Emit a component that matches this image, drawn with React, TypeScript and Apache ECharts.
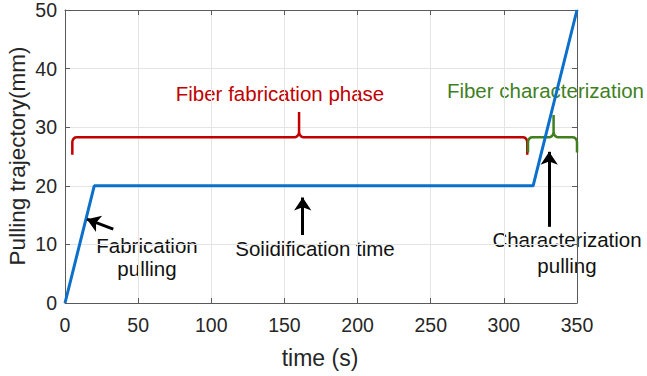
import React, { useEffect, useRef } from "react";
import * as echarts from "echarts";

// Data
const timeS = [0, 20, 320, 350];
const pullingMm = [0, 20, 20, 50];
const xTickMax = 350;
const yTickMax = 50;

// Braces: [from, to, tipX, baseY, levelY, peakY]
const fabBrace = [5, 316, 160, 25.3, 28.3, 32.6];
const charBrace = [316.5, 350, 334, 25.7, 28.3, 32.1];

// Arrows: [x1, y1, x2, y2] (tail -> head)
const arrowFab = [33, 12.6, 15, 14.3];
const arrowSol = [162.5, 11.6, 162.5, 18];
const arrowChar = [331, 13, 331, 25.8];

const FONT = "'Liberation Sans', Arial, sans-serif";

function bracePoints(b: number[]) {
  const [from, to, tip, base, level, peak] = b;
  const rx = 3;
  const ry = 0.9;
  const pts: number[][] = [];
  const steps = 5;
  pts.push([from, base]);
  pts.push([from, level - ry]);
  for (let i = 1; i <= steps; i++) {
    const a = (Math.PI / 2) * (i / steps);
    pts.push([from + rx * (1 - Math.cos(a)), level - ry + ry * Math.sin(a)]);
  }
  pts.push([tip - rx, level]);
  for (let i = 1; i <= steps; i++) {
    const a = (Math.PI / 2) * (i / steps);
    pts.push([tip - rx + rx * Math.sin(a), level + ry * (1 - Math.cos(a))]);
  }
  pts.push([tip, peak]);
  pts.push([tip, level + ry]);
  for (let i = 1; i <= steps; i++) {
    const a = (Math.PI / 2) * (i / steps);
    pts.push([tip + rx * (1 - Math.cos(a)), level + ry - ry * Math.sin(a)]);
  }
  pts.push([to - rx, level]);
  for (let i = 1; i <= steps; i++) {
    const a = (Math.PI / 2) * (i / steps);
    pts.push([to - rx + rx * Math.sin(a), level - ry * (1 - Math.cos(a))]);
  }
  pts.push([to, base]);
  return pts;
}

function arrowLine(a: number[]) {
  return [{ coord: [a[0], a[1]] }, { coord: [a[2], a[3]] }];
}

export default function App() {
  const ref = useRef<HTMLDivElement>(null);
  useEffect(() => {
    if (!ref.current) return;
    const chart = echarts.init(ref.current, undefined, { renderer: "svg" });
    const axisColor = "#5a5a5a";
    const labelStyle = { color: "#262626", fontSize: 19.5, fontFamily: FONT };
    const gridLine = { show: true, lineStyle: { color: "#e4e4e4", width: 1 } };
    chart.setOption({
      animation: false,
      backgroundColor: "#ffffff",
      grid: { left: 65, right: 70, top: 10, bottom: 73, containLabel: false },
      xAxis: [
        {
          type: "value",
          min: 0,
          max: xTickMax,
          interval: 50,
          axisLine: { show: true, lineStyle: { color: axisColor, width: 1 } },
          axisTick: { show: true, inside: true, length: 5, lineStyle: { color: axisColor } },
          axisLabel: { ...labelStyle, margin: 12 },
          splitLine: gridLine,
        },
        {
          type: "value",
          position: "top",
          min: 0,
          max: xTickMax,
          interval: 50,
          axisLine: { show: true, onZero: false, lineStyle: { color: axisColor, width: 1 } },
          axisTick: { show: true, inside: true, length: 5, lineStyle: { color: axisColor } },
          axisLabel: { show: false },
          splitLine: { show: false },
        },
      ],
      yAxis: [
        {
          type: "value",
          min: 0,
          max: yTickMax,
          interval: 10,
          axisLine: { show: true, lineStyle: { color: axisColor, width: 1 } },
          axisTick: { show: true, inside: true, length: 5, lineStyle: { color: axisColor } },
          axisLabel: { ...labelStyle, margin: 8 },
          splitLine: gridLine,
        },
        {
          type: "value",
          position: "right",
          min: 0,
          max: yTickMax,
          interval: 10,
          axisLine: { show: true, onZero: false, lineStyle: { color: axisColor, width: 1 } },
          axisTick: { show: true, inside: true, length: 5, lineStyle: { color: axisColor } },
          axisLabel: { show: false },
          splitLine: { show: false },
        },
      ],
      series: [
        {
          type: "line",
          data: bracePoints(fabBrace),
          showSymbol: false,
          silent: true,
          lineStyle: { color: "#c00000", width: 2.5 },
          z: 3,
        },
        {
          type: "line",
          data: bracePoints(charBrace),
          showSymbol: false,
          silent: true,
          lineStyle: { color: "#3f7f1f", width: 2.5 },
          z: 3,
        },
        {
          type: "line",
          data: timeS.map((t, i) => [t, pullingMm[i]]),
          showSymbol: false,
          silent: true,
          lineStyle: { color: "#0b6fcc", width: 3 },
          z: 4,
          markLine: {
            silent: true,
            symbol: ["none", "arrow"],
            symbolSize: 13,
            label: { show: false },
            itemStyle: { color: "#000000" },
            lineStyle: { color: "#000000", width: 3, type: "solid" },
            data: [arrowLine(arrowFab), arrowLine(arrowSol), arrowLine(arrowChar)],
          },
        },
      ],
      graphic: [
        {
          type: "text",
          x: 280,
          y: 93,
          style: { text: "Fiber fabrication phase", fill: "#c00000", fontSize: 20.5, fontFamily: FONT, align: "center", verticalAlign: "middle" },
        },
        {
          type: "text",
          x: 644,
          y: 90,
          style: { text: "Fiber characterization", fill: "#3f7f1f", fontSize: 20.5, fontFamily: FONT, align: "right", verticalAlign: "middle" },
        },
        {
          type: "text",
          x: 147,
          y: 256.5,
          style: { text: "Fabrication\npulling", fill: "#111", fontSize: 20.5, lineHeight: 23, fontFamily: FONT, align: "center", verticalAlign: "middle" },
        },
        {
          type: "text",
          x: 315,
          y: 248,
          style: { text: "Solidification time", fill: "#111", fontSize: 20.5, fontFamily: FONT, align: "center", verticalAlign: "middle" },
        },
        {
          type: "text",
          x: 567,
          y: 252,
          style: { text: "Characterization\npulling", fill: "#111", fontSize: 20.5, lineHeight: 26, fontFamily: FONT, align: "center", verticalAlign: "middle" },
        },
        {
          type: "text",
          x: 320,
          y: 358,
          style: { text: "time (s)", fill: "#262626", fontSize: 23, fontFamily: FONT, align: "center", verticalAlign: "middle" },
        },
        {
          type: "text",
          x: 17,
          y: 156,
          rotation: Math.PI / 2,
          style: { text: "Pulling trajectory(mm)", fill: "#262626", fontSize: 22.5, fontFamily: FONT, align: "center", verticalAlign: "middle" },
        },
      ],
    });
    return () => chart.dispose();
  }, []);
  return (
    <div
      ref={ref}
      style={{ position: "fixed", left: 0, top: 0, width: 647, height: 376, background: "#fff" }}
    />
  );
}
